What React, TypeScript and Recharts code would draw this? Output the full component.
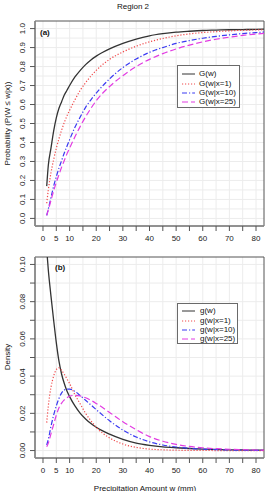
import React from 'react';
import { LineChart, Line, XAxis, YAxis, CartesianGrid, Legend, ReferenceArea } from 'recharts';

// Precipitation amounts w (mm) at which the curves are evaluated
const amounts = [1.4, 2, 3, 4, 5, 6, 7, 8, 9, 10, 12, 14, 16, 18, 20, 25, 30, 35, 40, 45, 50, 55, 60, 65, 70, 75, 80, 83];

// (a) cumulative probabilities
const cdfAll = [0.17, 0.28, 0.37, 0.46, 0.53, 0.58, 0.615, 0.65, 0.675, 0.7, 0.745, 0.78, 0.81, 0.835, 0.855, 0.893, 0.922, 0.945, 0.962, 0.973, 0.981, 0.986, 0.99, 0.992, 0.994, 0.995, 0.996, 0.997];
const cdfX1 = [0.08, 0.15, 0.24, 0.31, 0.37, 0.42, 0.465, 0.505, 0.54, 0.57, 0.625, 0.675, 0.715, 0.75, 0.78, 0.838, 0.877, 0.907, 0.93, 0.948, 0.962, 0.972, 0.979, 0.984, 0.988, 0.991, 0.993, 0.994];
const cdfX10 = [0.016, 0.05, 0.11, 0.17, 0.22, 0.265, 0.305, 0.345, 0.38, 0.415, 0.48, 0.535, 0.585, 0.625, 0.66, 0.735, 0.795, 0.84, 0.875, 0.9, 0.922, 0.937, 0.949, 0.959, 0.967, 0.974, 0.979, 0.982];
const cdfX25 = [0.016, 0.045, 0.095, 0.145, 0.19, 0.23, 0.27, 0.305, 0.34, 0.37, 0.43, 0.485, 0.535, 0.58, 0.62, 0.695, 0.752, 0.8, 0.838, 0.868, 0.893, 0.913, 0.93, 0.944, 0.955, 0.964, 0.971, 0.975];

// (b) densities
const pdfAll = [0.108, 0.097, 0.083, 0.07, 0.058, 0.048, 0.041, 0.036, 0.032, 0.029, 0.024, 0.02, 0.017, 0.0145, 0.0125, 0.0088, 0.006, 0.004, 0.0028, 0.002, 0.0015, 0.0011, 0.0008, 0.0006, 0.0004, 0.0003, 0.0002, 0.0002];
const pdfX1 = [0.015, 0.024, 0.034, 0.04, 0.0435, 0.0445, 0.043, 0.041, 0.0385, 0.036, 0.03, 0.025, 0.02, 0.016, 0.0125, 0.0068, 0.0035, 0.0017, 0.0008, 0.0004, 0.0002, 0.0001, 0.0001, 0, 0, 0, 0, 0];
const pdfX10 = [0.003, 0.006, 0.013, 0.019, 0.024, 0.028, 0.031, 0.0325, 0.033, 0.033, 0.0318, 0.0295, 0.027, 0.0245, 0.022, 0.016, 0.011, 0.0073, 0.0047, 0.003, 0.0019, 0.0012, 0.0008, 0.0005, 0.0003, 0.0002, 0.0001, 0.0001];
const pdfX25 = [0.002, 0.004, 0.009, 0.014, 0.019, 0.023, 0.0255, 0.0272, 0.0284, 0.0292, 0.0297, 0.0293, 0.0284, 0.027, 0.0253, 0.0205, 0.0155, 0.0112, 0.0075, 0.005, 0.0033, 0.0022, 0.0015, 0.001, 0.0007, 0.0005, 0.0003, 0.0002];

const cdfNames = ['G(w)', 'G(w|x=1)', 'G(w|x=10)', 'G(w|x=25)'];
const pdfNames = ['g(w)', 'g(w|x=1)', 'g(w|x=10)', 'g(w|x=25)'];

const xTicks = [0, 5, 10, 15, 20, 25, 30, 35, 40, 45, 50, 55, 60, 65, 70, 75, 80];
const xLabelled = [0, 5, 10, 20, 30, 40, 50, 60, 70, 80];
const cdfTicks = [0, 0.1, 0.2, 0.3, 0.4, 0.5, 0.6, 0.7, 0.8, 0.9, 1.0];
const cdfGrid = [0, 0.05, 0.1, 0.15, 0.2, 0.25, 0.3, 0.35, 0.4, 0.45, 0.5, 0.55, 0.6, 0.65, 0.7, 0.75, 0.8, 0.85, 0.9, 0.95, 1.0];
const pdfTicks = [0, 0.01, 0.02, 0.03, 0.04, 0.05, 0.06, 0.07, 0.08, 0.09, 0.1];
const pdfLabelled = [0, 0.02, 0.04, 0.06, 0.08, 0.1];

const FONT = '"Liberation Sans", Arial, Helvetica, sans-serif';
const X_DOMAIN: [number, number] = [-3, 83];
const CDF_DOMAIN: [number, number] = [-0.04, 1.04];
const PDF_DOMAIN: [number, number] = [-0.004, 0.104];

const styles = [
  { key: 'all', color: '#333333', dash: undefined as string | undefined, width: 1.3 },
  { key: 'x1', color: '#f0494a', dash: '1.2 1.8', width: 1.2 },
  { key: 'x10', color: '#3a3af2', dash: '5 2 1.2 2', width: 1.2 },
  { key: 'x25', color: '#e23ce2', dash: '6 3', width: 1.2 },
];

const cdfRows = amounts.map((w, i) => ({ w, all: cdfAll[i], x1: cdfX1[i], x10: cdfX10[i], x25: cdfX25[i] }));
const pdfRows = amounts.map((w, i) => ({ w, all: pdfAll[i], x1: pdfX1[i], x10: pdfX10[i], x25: pdfX25[i] }));

const near = (list: number[], v: number) => list.some((t) => Math.abs(t - v) < 1e-9);

const makeYTick = (labelled: number[], digits: number) => (props: any) => {
  const { y, payload } = props;
  const v = payload.value as number;
  if (!near(labelled, v)) return <g />;
  return (
    <text
      x={25}
      y={y}
      transform={`rotate(-90, 25, ${y})`}
      textAnchor="middle"
      fontSize={8}
      fontFamily={FONT}
      fill="#222"
    >
      {v.toFixed(digits)}
    </text>
  );
};

type LegendProps = { names: string[]; rowTops: number[]; textLeft: number; width: number; height: number };

const LegendBox = ({ names, rowTops, textLeft, width, height }: LegendProps) => (
  <div
    style={{
      position: 'relative',
      width,
      height,
      boxSizing: 'border-box',
      border: '1px solid #6a6a6a',
      background: '#ffffff',
      fontFamily: FONT,
      fontSize: 8,
      color: '#111',
    }}
  >
    {names.map((name, i) => (
      <div key={name} style={{ position: 'absolute', left: 0, top: rowTops[i] - 5, height: 10, width: '100%' }}>
        <svg width={16} height={10} style={{ position: 'absolute', left: 3, top: 0 }}>
          <line
            x1={1}
            y1={5}
            x2={14}
            y2={5}
            stroke={styles[i].color}
            strokeWidth={1}
            strokeDasharray={styles[i].dash}
          />
        </svg>
        <span style={{ position: 'absolute', left: textLeft, top: 0, lineHeight: '10px', whiteSpace: 'nowrap' }}>{name}</span>
      </div>
    ))}
  </div>
);

const renderLines = () =>
  styles.map((s) => (
    <Line
      key={s.key}
      dataKey={s.key}
      type="monotone"
      stroke={s.color}
      strokeWidth={s.width}
      strokeDasharray={s.dash}
      dot={false}
      activeDot={false}
      isAnimationActive={false}
    />
  ));

const xTickFormat = (v: number) => (near(xLabelled, v) ? String(v) : '');

export default function App() {
  return (
    <div style={{ position: 'absolute', left: 0, top: 0, width: 269, height: 491, background: '#ffffff', overflow: 'hidden' }}>
      <div style={{ position: 'absolute', left: 0, top: 0 }}>
        <LineChart width={269} height={250} data={cdfRows} margin={{ top: 21, right: 5, bottom: 0, left: 0 }}>
          <CartesianGrid stroke="#ececec" verticalValues={xTicks} horizontalValues={cdfGrid} />
          <XAxis
            dataKey="w"
            type="number"
            domain={X_DOMAIN}
            allowDataOverflow
            ticks={xTicks}
            interval={0}
            height={24}
            tickSize={5}
            tickMargin={4}
            tickFormatter={xTickFormat}
            tick={{ fontSize: 8, fill: '#222', fontFamily: FONT }}
            tickLine={{ stroke: '#555' }}
            axisLine={{ stroke: '#8a8a8a', strokeWidth: 1.5 }}
          />
          <YAxis
            type="number"
            domain={CDF_DOMAIN}
            allowDataOverflow
            ticks={cdfTicks}
            interval={0}
            width={35}
            tickSize={5}
            tick={makeYTick(cdfTicks, 1)}
            tickLine={{ stroke: '#555' }}
            axisLine={{ stroke: '#8a8a8a', strokeWidth: 1.5 }}
            label={{
              content: () => (
                <g fontFamily={FONT} fill="#111">
                  <text x={133} y={8.5} textAnchor="middle" fontSize={8}>
                    Region 2
                  </text>
                  <text x={9.5} y={123.5} transform="rotate(-90, 9.5, 123.5)" textAnchor="middle" fontSize={8}>
                    Probability (P(W ≤ w|x))
                  </text>
                  <text x={40} y={34.5} fontSize={8} fontWeight="bold">
                    (a)
                  </text>
                </g>
              ),
            }}
          />
          <ReferenceArea
            x1={X_DOMAIN[0]}
            x2={X_DOMAIN[1]}
            y1={CDF_DOMAIN[0]}
            y2={CDF_DOMAIN[1]}
            fill="none"
            fillOpacity={0}
            stroke="#555"
            strokeWidth={1}
            ifOverflow="visible"
          />
          {renderLines()}
          <Legend
            layout="vertical"
            align="center"
            verticalAlign="middle"
            wrapperStyle={{ left: 177, top: 65, width: 63, height: 43 }}
            content={() => (
              <LegendBox names={cdfNames} rowTops={[8, 17.5, 27, 36]} textLeft={21} width={63} height={43} />
            )}
          />
        </LineChart>
      </div>

      <div style={{ position: 'absolute', left: 0, top: 250 }}>
        <LineChart width={269} height={241} data={pdfRows} margin={{ top: 7, right: 5, bottom: 0, left: 0 }}>
          <CartesianGrid stroke="#ececec" verticalValues={xTicks} horizontalValues={pdfTicks} />
          <XAxis
            dataKey="w"
            type="number"
            domain={X_DOMAIN}
            allowDataOverflow
            ticks={xTicks}
            interval={0}
            height={33}
            tickSize={5}
            tickMargin={4}
            tickFormatter={xTickFormat}
            tick={{ fontSize: 8, fill: '#222', fontFamily: FONT }}
            tickLine={{ stroke: '#555' }}
            axisLine={{ stroke: '#8a8a8a', strokeWidth: 1.5 }}
            label={{
              content: () => (
                <text x={145} y={240.5} textAnchor="middle" fontSize={8} fontFamily={FONT} fill="#111">
                  Precipitation Amount w (mm)
                </text>
              ),
            }}
          />
          <YAxis
            type="number"
            domain={PDF_DOMAIN}
            allowDataOverflow
            ticks={pdfTicks}
            interval={0}
            width={35}
            tickSize={5}
            tick={makeYTick(pdfLabelled, 2)}
            tickLine={{ stroke: '#555' }}
            axisLine={{ stroke: '#8a8a8a', strokeWidth: 1.5 }}
            label={{
              content: () => (
                <g fontFamily={FONT} fill="#111">
                  <text x={9.5} y={107} transform="rotate(-90, 9.5, 107)" textAnchor="middle" fontSize={8}>
                    Density
                  </text>
                  <text x={55} y={20} fontSize={8} fontWeight="bold">
                    (b)
                  </text>
                </g>
              ),
            }}
          />
          <ReferenceArea
            x1={X_DOMAIN[0]}
            x2={X_DOMAIN[1]}
            y1={PDF_DOMAIN[0]}
            y2={PDF_DOMAIN[1]}
            fill="none"
            fillOpacity={0}
            stroke="#555"
            strokeWidth={1}
            ifOverflow="visible"
          />
          {renderLines()}
          <Legend
            layout="vertical"
            align="center"
            verticalAlign="middle"
            wrapperStyle={{ left: 177, top: 53, width: 61, height: 41 }}
            content={() => (
              <LegendBox names={pdfNames} rowTops={[7, 16.5, 25.5, 34.5]} textLeft={22} width={61} height={41} />
            )}
          />
        </LineChart>
      </div>
    </div>
  );
}
